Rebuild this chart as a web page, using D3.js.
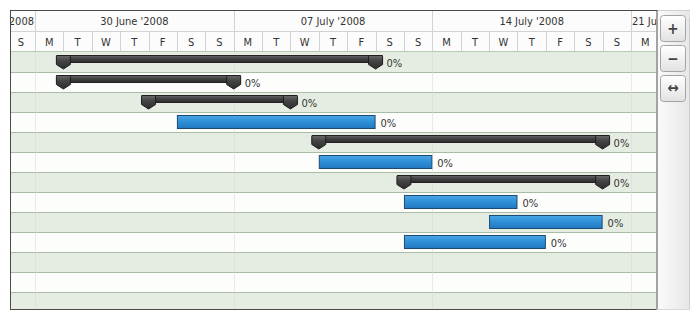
<!DOCTYPE html>
<html><head><meta charset="utf-8">
<script src="https://cdn.jsdelivr.net/npm/d3@7"></script>
<style>
body{margin:0;background:#fff;}
svg{display:block;font-family:"DejaVu Sans Condensed","DejaVu Sans",sans-serif;font-stretch:condensed;}
</style>
</head><body>
<svg id="c" width="700" height="320"></svg>
<script>
// ---- data ----
const weekLabels = ["23 June '2008","30 June '2008","07 July '2008","14 July '2008","21 July '2008"];
const weekStarts = ["2008-06-23","2008-06-30","2008-07-07","2008-07-14","2008-07-21"];
const firstDay = "2008-06-29";
const dayLetters = ["S","M","T","W","T","F","S","S","M","T","W","T","F","S","S","M","T","W","T","F","S","S","M"];
const taskType = ["project","project","project","task","project","task","project","task","task","task"];
const taskStart = ["2008-07-01","2008-07-01","2008-07-04","2008-07-05","2008-07-10","2008-07-10","2008-07-13","2008-07-13","2008-07-16","2008-07-13"];
const taskEnd   = ["2008-07-12","2008-07-07","2008-07-09","2008-07-12","2008-07-20","2008-07-14","2008-07-20","2008-07-17","2008-07-20","2008-07-18"];
const taskProgress = [0,0,0,0,0,0,0,0,0,0];
const rowCount = 13;

// ---- layout ----
const L = 10, T = 10, R = 656.5, B = 310, TB = 690;
const H1 = 31, H2 = 52, rowH = 20;
const parse = s => { const [y,m,d] = s.split("-").map(Number); return new Date(Date.UTC(y,m-1,d)); };
const x = d3.scaleUtc().domain([parse("2008-06-30"), parse("2008-07-21")]).range([35, 631]);
const y = d3.scaleLinear().domain([0,1]).range([H2, H2+rowH]);
const DAY = 864e5;

const svg = d3.select("#c");
const defs = svg.append("defs");
defs.append("clipPath").attr("id","grid").append("rect").attr("x",L).attr("y",T).attr("width",R-L).attr("height",B-T);
const g1 = defs.append("linearGradient").attr("id","blue").attr("x1",0).attr("y1",0).attr("x2",0).attr("y2",1);
g1.append("stop").attr("offset","0%").attr("stop-color","#4aa6e6");
g1.append("stop").attr("offset","45%").attr("stop-color","#2f91d8");
g1.append("stop").attr("offset","100%").attr("stop-color","#2277c2");
const g2 = defs.append("linearGradient").attr("id","dark").attr("x1",0).attr("y1",0).attr("x2",0).attr("y2",1);
g2.append("stop").attr("offset","0%").attr("stop-color","#6a6a6a");
g2.append("stop").attr("offset","40%").attr("stop-color","#444");
g2.append("stop").attr("offset","100%").attr("stop-color","#2c2c2c");
const g3 = defs.append("linearGradient").attr("id","tool").attr("x1",0).attr("y1",0).attr("x2",1).attr("y2",0);
g3.append("stop").attr("offset","0%").attr("stop-color","#fbfbfb");
g3.append("stop").attr("offset","100%").attr("stop-color","#e6e6e6");
const g4 = defs.append("linearGradient").attr("id","btn").attr("x1",0).attr("y1",0).attr("x2",0).attr("y2",1);
g4.append("stop").attr("offset","0%").attr("stop-color","#ffffff");
g4.append("stop").attr("offset","100%").attr("stop-color","#e2e2e2");

const grid = svg.append("g").attr("clip-path","url(#grid)");

// rows
grid.selectAll("rect.row").data(d3.range(rowCount)).join("rect")
  .attr("x",L).attr("width",R-L)
  .attr("y",i=>y(i)).attr("height",rowH)
  .attr("fill",i=> i%2===0 ? "#e5ede2" : "#fdfefb");
grid.selectAll("line.rowsep").data(d3.range(1,rowCount)).join("line")
  .attr("x1",L).attr("x2",R).attr("y1",i=>y(i)+0.5).attr("y2",i=>y(i)+0.5)
  .attr("stroke","#a9bca6").attr("stroke-width",1);
// faint week lines in body
grid.selectAll("line.wk").data(weekStarts).join("line")
  .attr("x1",d=>Math.round(x(parse(d)))+0.5).attr("x2",d=>Math.round(x(parse(d)))+0.5)
  .attr("y1",H2).attr("y2",B).attr("stroke","#d8d8d8").attr("stroke-opacity",0.55);

// header
grid.append("rect").attr("x",L).attr("y",T).attr("width",R-L).attr("height",H2-T).attr("fill","#fcfcfc");
grid.append("line").attr("x1",L).attr("x2",R).attr("y1",H1+0.5).attr("y2",H1+0.5).attr("stroke","#d2d2d2");
grid.append("line").attr("x1",L).attr("x2",R).attr("y1",H2-0.5).attr("y2",H2-0.5).attr("stroke","#b9c9b6");
grid.selectAll("line.wsep").data(weekStarts).join("line")
  .attr("x1",d=>Math.round(x(parse(d)))+0.5).attr("x2",d=>Math.round(x(parse(d)))+0.5)
  .attr("y1",T).attr("y2",H1).attr("stroke","#d2d2d2");
const dayDates = dayLetters.map((_,i)=> new Date(parse(firstDay).getTime()+i*DAY));
grid.selectAll("line.dsep").data(dayDates).join("line")
  .attr("x1",d=>Math.round(x(d))+0.5).attr("x2",d=>Math.round(x(d))+0.5)
  .attr("y1",H1).attr("y2",H2-1).attr("stroke","#d2d2d2");
grid.selectAll("text.day").data(dayLetters).join("text")
  .attr("x",(d,i)=> x(new Date(dayDates[i].getTime()+DAY/2)))
  .attr("y",46).attr("text-anchor","middle").attr("font-size",11).attr("fill","#333").text(d=>d);

const weekW = 7*(x(parse("2008-07-01"))-x(parse("2008-06-30")));
weekLabels.forEach((lab,i)=>{
  const s = x(parse(weekStarts[i])), e = s + weekW;
  const t = grid.append("text").attr("y",25).attr("font-size",11).attr("fill","#333").text(lab);
  if (s < L) {            // partially visible on the left: keep the tail that fits
    const avail = e - L + 2;
    let str = lab;
    while (str.length && t.text(str).node().getComputedTextLength() > avail) str = str.slice(1);
    t.attr("x", e - 1).attr("text-anchor","end");
  } else if (e > R) {     // partially visible on the right: keep the head that fits
    const avail = R - s + 2;
    let str = lab;
    while (str.length && t.text(str).node().getComputedTextLength() > avail) str = str.slice(0,-1);
    t.attr("x", s + 1).attr("text-anchor","start");
  } else {
    t.attr("x",(s+e)/2).attr("text-anchor","middle");
  }
});

// tasks
const tasks = taskType.map((t,i)=>({i, type:t, s:x(parse(taskStart[i])), e:x(parse(taskEnd[i])), p:taskProgress[i]}));
const bars = grid.append("g");
tasks.filter(d=>d.type==="task").forEach(d=>{
  bars.append("rect").attr("x",d.s+0.5).attr("y",y(d.i)+3.5).attr("width",d.e-d.s-1).attr("height",13)
    .attr("fill","url(#blue)").attr("stroke","#1d4a70").attr("stroke-width",1);
});
function marker(cx, ry){
  return `M${cx-7},${ry+4} Q${cx-7},${ry+3} ${cx-6},${ry+3} L${cx+6},${ry+3} Q${cx+7},${ry+3} ${cx+7},${ry+4} L${cx+7},${ry+12} L${cx},${ry+16.5} L${cx-7},${ry+12} Z`;
}
tasks.filter(d=>d.type==="project").forEach(d=>{
  const ry = y(d.i);
  bars.append("rect").attr("x",d.s-6.5).attr("y",ry+3.5).attr("width",d.e-d.s+13).attr("height",7)
    .attr("fill","url(#dark)").attr("stroke","#222");
  [d.s,d.e].forEach(cx=>{
    bars.append("path").attr("d",marker(cx,ry+0.5)).attr("fill","url(#dark)").attr("stroke","#1e1e1e").attr("stroke-width",1);
  });
});
grid.selectAll("text.pct").data(tasks).join("text")
  .attr("x",d=> d.e + (d.type==="project" ? 11 : 5))
  .attr("y",d=> y(d.i)+14.5).attr("font-size",11).attr("fill","#333")
  .text(d=> d.p + "%");

// toolbar
svg.append("rect").attr("x",R).attr("y",T).attr("width",TB-R).attr("height",B-T).attr("fill","url(#tool)");
svg.append("line").attr("x1",R).attr("x2",TB).attr("y1",T+0.5).attr("y2",T+0.5).attr("stroke","#cfcfcf");
const btnY = [15,45,75], btnG = ["+","\u2212","\u2194"];
btnY.forEach((by,i)=>{
  svg.append("rect").attr("x",660.5).attr("y",by+0.5).attr("width",25).attr("height",26).attr("rx",3)
    .attr("fill","url(#btn)").attr("stroke","#a4a4a4");
  svg.append("text").attr("x",673).attr("y",by+ (i===2?18:18.5)).attr("text-anchor","middle")
    .attr("font-size", 15).attr("font-weight","bold").attr("fill","#444").text(btnG[i]);
});

// frame
svg.append("rect").attr("x",L+0.5).attr("y",T+0.5).attr("width",R-L).attr("height",B-T-1).attr("fill","none").attr("stroke","#4a4a4a");
svg.append("line").attr("x1",TB-0.5).attr("x2",TB-0.5).attr("y1",T+8).attr("y2",B).attr("stroke","#d0d0d0");
svg.append("line").attr("x1",R).attr("x2",TB).attr("y1",B-0.5).attr("y2",B-0.5).attr("stroke","#d8d8d8");
</script>
</body></html>
